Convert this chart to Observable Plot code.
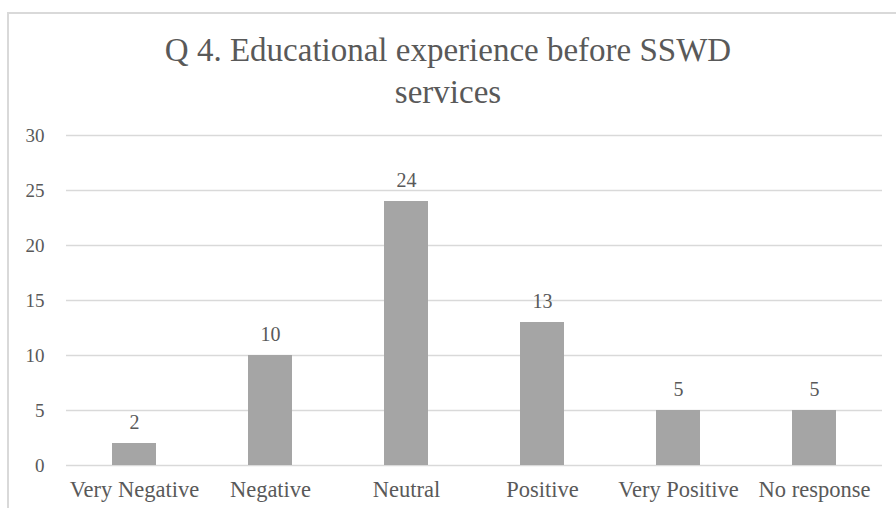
<!DOCTYPE html>
<html>
<head>
<meta charset="utf-8">
<script src="https://cdn.jsdelivr.net/npm/d3@7"></script>
<script src="https://cdn.jsdelivr.net/npm/@observablehq/plot@0.6"></script>
<style>
  html, body { margin: 0; padding: 0; background: #fff; }
  #wrap { position: relative; width: 896px; height: 508px; overflow: hidden; background: #fff; }
  #frame { position: absolute; left: 7px; top: 12px; width: 900px; height: 520px; border: 2px solid #d9d9d9; box-sizing: border-box; }
  #title { position: relative; height: 110px; box-sizing: border-box; padding-top: 29px; text-align: center;
           font-family: "Liberation Serif", "DejaVu Serif", serif; font-size: 33px; line-height: 42px; color: #595959; }
  #chart { position: relative; }
</style>
</head>
<body>
<div id="wrap">
  <div id="frame"></div>
  <div id="title">Q 4. Educational experience before SSWD<br>services</div>
  <div id="chart"></div>
</div>
<script>
// Responses to Q 4, counted per answer
const categories = ["Very Negative", "Negative", "Neutral", "Positive", "Very Positive", "No response"];
const counts = [2, 10, 24, 13, 5, 5];
const yTicks = [0, 5, 10, 15, 20, 25, 30];

const rows = categories.map((c, i) => ({category: c, count: counts[i]}));
const serif = '"Liberation Serif", "DejaVu Serif", serif';
const ink = "#595959";

const chart = Plot.plot({
  width: 896,
  height: 398,
  marginLeft: 66,
  marginRight: 14,
  marginTop: 25,
  marginBottom: 43,
  style: {fontFamily: serif, color: ink, background: "transparent", overflow: "visible"},
  x: {domain: categories, paddingInner: 0.68, paddingOuter: 0.34, label: null},
  y: {domain: [0, 30], label: null},
  marks: [
    Plot.gridY(yTicks, {stroke: "#d9d9d9", strokeOpacity: 1, strokeWidth: 1.5}),
    Plot.axisY(yTicks, {tickSize: 0, tickPadding: 22, fontSize: 19, fill: ink, label: null}),
    Plot.axisX({tickSize: 0, tickPadding: 16, fontSize: 22.5, fill: ink, label: null}),
    Plot.barY(rows, {x: "category", y: "count", fill: "#a5a5a5"}),
    Plot.text(rows, {x: "category", y: "count", text: d => String(d.count), dy: -15,
                     lineAnchor: "bottom", fontSize: 20, fill: ink})
  ]
});
document.getElementById("chart").appendChild(chart);
</script>
</body>
</html>
